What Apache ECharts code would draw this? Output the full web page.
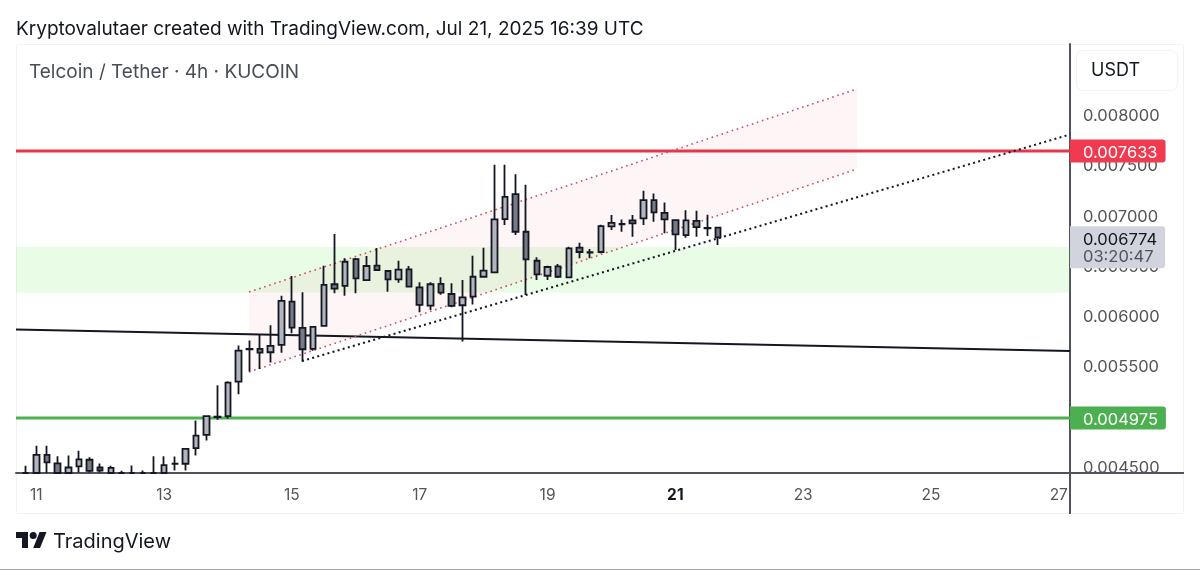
<!DOCTYPE html>
<html>
<head>
<meta charset="utf-8">
<style>
html,body{margin:0;padding:0;background:#fff}
#main{width:1200px;height:570px}
</style>
<script src="https://cdn.jsdelivr.net/npm/echarts@6/dist/echarts.min.js"></script>
</head>
<body>
<div id="main"></div>
<script>
// candles are 4h, first one is Jul 10 20:00
var firstDay = 10 + 20 / 24;
// values under the bottom of the chart can't be read, they are kept at the axis floor
var candleOpen = [0.004428,0.004428,0.004609,0.004523,0.004428,0.004493,0.00456,0.004483,0.004428,0.004428,0.004428,0.004428,0.004428,0.004428,0.004518,0.00452,0.004676,0.004808,0.004985,0.004994,0.005338,0.005659,0.005663,0.00563,0.005703,0.006134,0.005872,0.005663,0.005892,0.006307,0.00629,0.006558,0.006349,0.006492,0.006439,0.006356,0.006456,0.006277,0.006094,0.00631,0.00621,0.006098,0.006183,0.006382,0.006426,0.006956,0.007204,0.00683,0.006541,0.006392,0.006486,0.006376,0.006671,0.006623,0.006628,0.006883,0.006904,0.006943,0.006963,0.007145,0.007018,0.006946,0.006797,0.006939,0.006868,0.006871];
var candleClose = [0.004428,0.004609,0.004533,0.004428,0.004483,0.004563,0.00445,0.004453,0.00448,0.004428,0.004428,0.004428,0.004428,0.004507,0.004522,0.004669,0.004801,0.004994,0.004989,0.005328,0.005646,0.005663,0.005626,0.005693,0.006141,0.005875,0.00566,0.005882,0.0063,0.006263,0.006531,0.006366,0.006489,0.006449,0.006356,0.006452,0.006283,0.006101,0.006307,0.006223,0.006091,0.006177,0.006382,0.006442,0.006953,0.007178,0.00683,0.006555,0.006406,0.006479,0.006382,0.006665,0.006628,0.006627,0.006886,0.006919,0.006908,0.006913,0.007145,0.007022,0.006953,0.006804,0.006943,0.006876,0.006864,0.006774];
var candleLow = [0.004428,0.004428,0.004428,0.004428,0.004428,0.004433,0.004433,0.004433,0.004428,0.004428,0.004428,0.004428,0.004428,0.004428,0.004453,0.004453,0.004602,0.004751,0.004957,0.00497,0.005213,0.005438,0.005464,0.005527,0.005626,0.005819,0.005537,0.005646,0.005887,0.006217,0.006193,0.006217,0.006346,0.006446,0.006233,0.006323,0.00628,0.006028,0.006051,0.006203,0.006078,0.005736,0.006106,0.006372,0.006423,0.006896,0.006797,0.0062,0.006349,0.006349,0.006369,0.006374,0.006565,0.006565,0.006615,0.006847,0.00683,0.00678,0.006896,0.006929,0.006814,0.006648,0.00677,0.00678,0.006787,0.006697];
var candleHigh = [0.0045,0.004699,0.004699,0.004596,0.004602,0.004649,0.004586,0.004523,0.0045,0.00445,0.004503,0.004453,0.004596,0.004596,0.004592,0.004672,0.00495,0.004997,0.005302,0.005342,0.005698,0.005746,0.005802,0.005899,0.006193,0.006389,0.006227,0.005892,0.006492,0.006807,0.006565,0.006568,0.006588,0.006668,0.006449,0.006541,0.006489,0.006327,0.006327,0.006376,0.006317,0.006349,0.006591,0.006671,0.007496,0.007496,0.007403,0.007297,0.006575,0.006492,0.006508,0.00668,0.00672,0.006658,0.006899,0.006996,0.006953,0.006996,0.007237,0.007211,0.007122,0.006953,0.007045,0.007038,0.006999,0.006873];

var dayTicks = [11, 13, 15, 17, 19, 21, 23, 25, 27];
var priceTicks = [0.0045, 0.005, 0.0055, 0.006, 0.0065, 0.007, 0.0075, 0.008];

var viewDays = [10.682, 27.176];
var viewPrices = [0.004428, 0.008699];

// horizontal levels and drawings, as [day, price]
var resistance = 0.007633;
var support = 0.004975;
var lastPrice = 0.006774;
var countdown = '03:20:47';
var greenZone = [0.006677, 0.006225];
var blackLine = [[10.682, 0.005857], [27.176, 0.005643]];
var dottedLine = [[15.158, 0.005543], [27.176, 0.007798]];
var channelTop = [[14.329, 0.00623], [23.843, 0.008251]];
var channelBottom = [[14.329, 0.005434], [23.843, 0.007454]];

var FONT = 'Inter, "Noto Sans", sans-serif';

var candles = [];
for (var i = 0; i < candleOpen.length; i++) {
    candles.push([firstDay + i / 6, candleOpen[i], candleClose[i], candleLow[i], candleHigh[i]]);
}

function levelLine(name, value, color, width, labelBg) {
    return {
        name: name,
        type: 'line',
        symbol: 'none',
        silent: true,
        z: 3,
        data: [[viewDays[0], value], [viewDays[1], value]],
        lineStyle: {color: color, width: width},
        endLabel: {
            show: true,
            formatter: '{a|' + value.toFixed(6) + '}',
            backgroundColor: labelBg,
            borderRadius: [0, 3, 3, 0],
            padding: [2, 8, 1, 13],
            distance: 0,
            rich: {a: {color: '#fff', fontFamily: FONT, fontSize: 16.5, padding: [3, 0, 0, 0]}}
        }
    };
}

var myChart = echarts.init(document.getElementById('main'));
var option = {
    animation: false,
    backgroundColor: '#fff',
    textStyle: {fontFamily: FONT},
    grid: {left: 16, right: 130, top: 44, bottom: 97},
    xAxis: {
        type: 'value',
        min: viewDays[0],
        max: viewDays[1],
        splitLine: {show: false},
        axisLine: {onZero: false, lineStyle: {color: '#50535e', width: 2}},
        axisTick: {show: false},
        axisLabel: {
            customValues: dayTicks,
            margin: 14,
            fontSize: 15.5,
            color: '#555',
            formatter: function (v) {
                return v === 21 ? '{b|21}' : String(v);
            },
            rich: {b: {fontWeight: 'bold', color: '#131722', fontSize: 15.5}}
        }
    },
    yAxis: {
        type: 'value',
        position: 'right',
        min: viewPrices[0],
        max: viewPrices[1],
        splitLine: {show: false},
        axisLine: {show: true, onZero: false, lineStyle: {color: '#50535e', width: 2}},
        axisTick: {show: false},
        axisLabel: {
            customValues: priceTicks,
            margin: 13,
            color: '#555',
            formatter: function (v) {
                return '{a|' + v.toFixed(6) + '}';
            },
            rich: {a: {fontSize: 16.5, color: '#555', padding: [4, 0, 0, 0]}}
        }
    },
    series: [
        {
            // pink channel fill
            type: 'custom',
            silent: true,
            z: 1,
            data: [0],
            renderItem: function (params, api) {
                var pts = [channelTop[0], channelTop[1], channelBottom[1], channelBottom[0]];
                return {
                    type: 'polygon',
                    shape: {points: pts.map(function (p) { return api.coord(p); })},
                    style: {fill: 'rgba(242,54,69,0.05)'}
                };
            }
        },
        levelLine('resistance', resistance, '#e5374b', 3, '#ef3a50'),
        levelLine('support', support, '#4caf50', 3, '#4caf50'),
        {
            // green zone, last price tag
            name: 'last',
            type: 'line',
            symbol: 'none',
            silent: true,
            z: 3,
            data: [[viewDays[0], lastPrice], [viewDays[1], lastPrice]],
            lineStyle: {opacity: 0},
            markArea: {
                silent: true,
                z: 1,
                itemStyle: {color: 'rgba(80,230,70,0.135)'},
                data: [[{yAxis: greenZone[0]}, {yAxis: greenZone[1]}]]
            },
            endLabel: {
                show: true,
                formatter: '{p|' + lastPrice.toFixed(6) + '}\n{c|' + countdown + '}',
                backgroundColor: '#d1d4dc',
                borderRadius: [0, 3, 3, 0],
                padding: [3, 8, 2, 13],
                distance: 0,
                offset: [0, 10],
                rich: {
                    p: {color: '#131722', fontSize: 16.5, fontFamily: FONT, lineHeight: 19, padding: [2, 0, 0, 0]},
                    c: {color: '#50535e', fontSize: 16.5, fontFamily: FONT, lineHeight: 18}
                }
            }
        },
        {
            type: 'line', symbol: 'none', silent: true, z: 3,
            data: blackLine,
            lineStyle: {color: '#131722', width: 2}
        },
        {
            type: 'line', symbol: 'none', silent: true, z: 3,
            data: dottedLine,
            lineStyle: {color: '#131722', width: 2, type: [2, 3.3]}
        },
        {
            type: 'line', symbol: 'none', silent: true, z: 3,
            data: channelTop,
            lineStyle: {color: '#c8505f', width: 1.6, type: [1.6, 3.7]}
        },
        {
            type: 'line', symbol: 'none', silent: true, z: 3,
            data: channelBottom,
            lineStyle: {color: '#c8505f', width: 1.6, type: [1.6, 3.7]}
        },
        {
            type: 'candlestick',
            z: 4,
            barWidth: 6,
            data: candles,
            itemStyle: {
                color: '#b2b5be',
                color0: '#787b86',
                borderColor: '#131722',
                borderColor0: '#131722',
                borderWidth: 1.8
            }
        }
    ],
    graphic: [
        {type: 'rect', silent: true, z: -1, shape: {x: 16.5, y: 44.5, width: 1167, height: 469},
            style: {fill: null, stroke: '#f1f2f4', lineWidth: 1}},
        {type: 'line', silent: true, shape: {x1: 1070, y1: 473, x2: 1070, y2: 514},
            style: {stroke: '#50535e', lineWidth: 2}},
        {type: 'line', silent: true, shape: {x1: 1070, y1: 473, x2: 1184, y2: 473},
            style: {stroke: '#50535e', lineWidth: 2}},
        {type: 'line', silent: true, shape: {x1: 0, y1: 569.5, x2: 1200, y2: 569.5},
            style: {stroke: '#aaaaaa', lineWidth: 1}},
        {type: 'rect', silent: true, shape: {x: 1076.5, y: 50.5, width: 101, height: 40, r: 6},
            style: {fill: '#fff', stroke: '#f1f2f4', lineWidth: 1}},
        {type: 'text', silent: true, x: 1091, y: 71,
            style: {text: 'USDT', fill: '#131722', font: '18px ' + FONT, verticalAlign: 'middle'}},
        {type: 'text', silent: true, x: 16, y: 29,
            style: {text: 'Kryptovalutaer created with TradingView.com, Jul 21, 2025 16:39 UTC', fill: '#131722', font: '19px ' + FONT, verticalAlign: 'middle'}},
        {type: 'text', silent: true, x: 29, y: 72,
            style: {text: 'Telcoin / Tether · 4h · KUCOIN', fill: '#4a4d57', font: '19px ' + FONT, verticalAlign: 'middle'}},
        // TradingView logo
        {type: 'polygon', silent: true, shape: {points: [[16, 532], [28, 532], [28, 548], [22, 548], [22, 538], [16, 538]]},
            style: {fill: '#131722'}},
        {type: 'polygon', silent: true, shape: {points: [[33.2, 548], [39.6, 532], [46.5, 532], [40, 548]]},
            style: {fill: '#131722'}},
        {type: 'circle', silent: true, shape: {cx: 33.2, cy: 535.5, r: 3.5},
            style: {fill: '#131722'}},
        {type: 'text', silent: true, x: 53, y: 542,
            style: {text: 'TradingView', fill: '#131722', font: '20px ' + FONT, verticalAlign: 'middle'}}
    ]
};
myChart.setOption(option);
</script>
</body>
</html>
